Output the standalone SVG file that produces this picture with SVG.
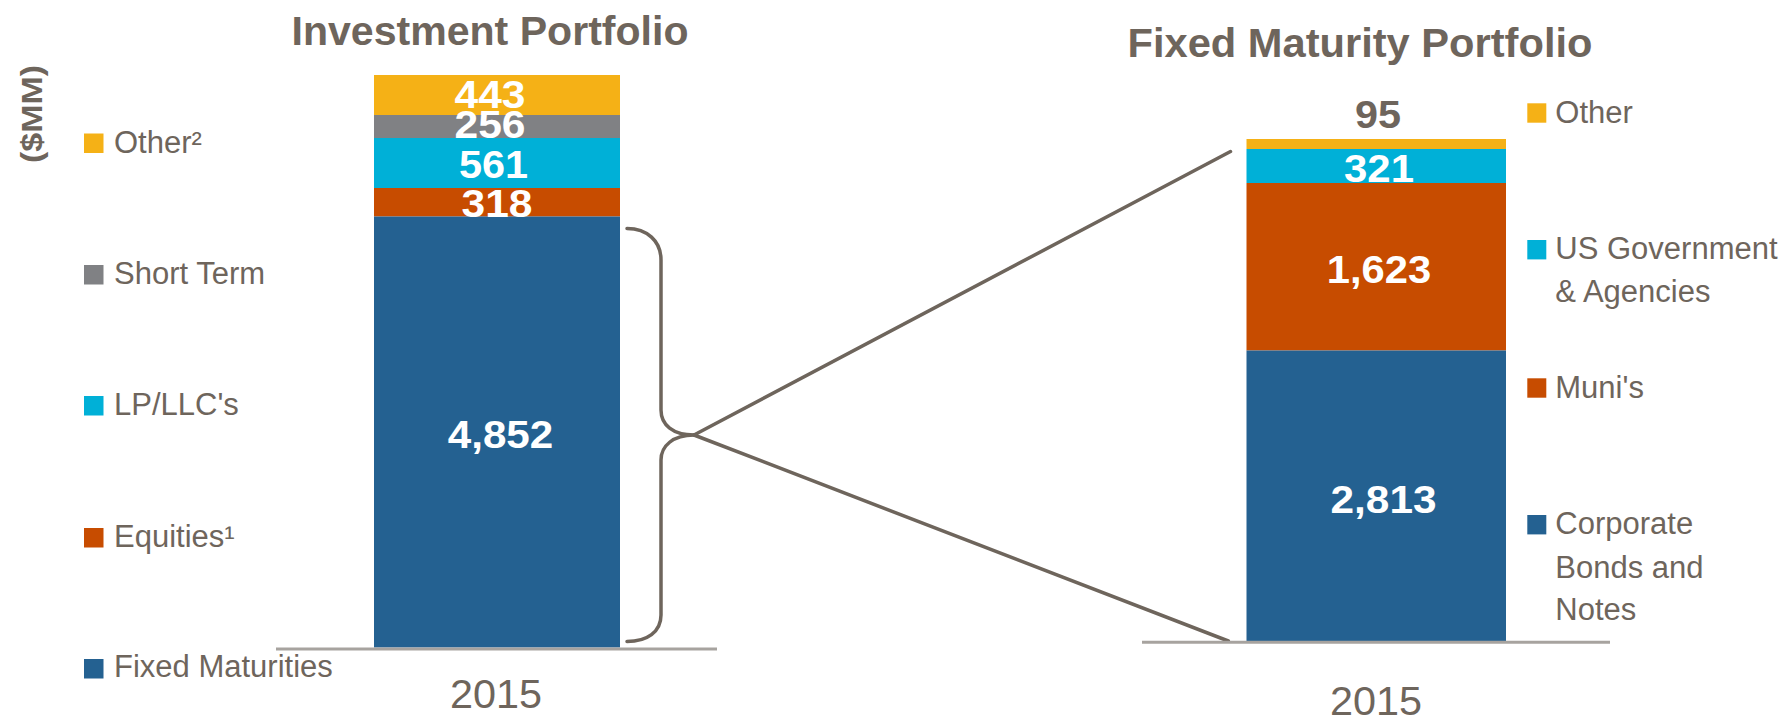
<svg xmlns="http://www.w3.org/2000/svg" width="1783" height="718" viewBox="0 0 1783 718">
  <style>
    .title { font-family: "Liberation Sans", Arial, sans-serif; font-weight: bold; font-size: 41px; fill: #6e655c; }
    .val { font-family: "Liberation Sans", Arial, sans-serif; font-weight: bold; font-size: 39px; fill: #ffffff; text-anchor: middle; }
    .valg { font-family: "Liberation Sans", Arial, sans-serif; font-weight: bold; font-size: 39px; fill: #6e655c; text-anchor: middle; }
    .leg { font-family: "Liberation Sans", Arial, sans-serif; font-size: 31px; fill: #6e655c; }
    .year { font-family: "Liberation Sans", Arial, sans-serif; font-size: 40px; fill: #6e655c; text-anchor: middle; }
    .axis { stroke: #a7a39f; stroke-width: 3; fill: none; }
    .conn { stroke: #6e655c; stroke-width: 3.5; fill: none; stroke-linecap: round; stroke-linejoin: round; }
    .c-yel { fill: #f5b116; }
    .c-gry { fill: #808184; }
    .c-cyn { fill: #00b0d7; }
    .c-org { fill: #c74c00; }
    .c-blu { fill: #246191; }
  </style>

  <g id="unit-label">
    <text x="31" y="114" transform="rotate(-90 31 114)" text-anchor="middle" dominant-baseline="central" font-family="Liberation Sans, Arial, sans-serif" font-weight="bold" font-size="30" fill="#6e655c" textLength="98" lengthAdjust="spacingAndGlyphs">($MM)</text>
  </g>

  <g id="title-investment">
    <text class="title" x="291.5" y="45" textLength="397" lengthAdjust="spacingAndGlyphs">Investment Portfolio</text>
  </g>

  <g id="title-fixed">
    <text class="title" x="1127.5" y="56.5" textLength="465" lengthAdjust="spacingAndGlyphs">Fixed Maturity Portfolio</text>
  </g>

  <g id="legend-left">
    <rect class="c-yel" x="84" y="133.5" width="19.5" height="19.5"/>
    <text class="leg" x="114" y="152.7">Other²</text>
    <rect class="c-gry" x="84" y="265" width="19.5" height="19.5"/>
    <text class="leg" x="114" y="284.3">Short Term</text>
    <rect class="c-cyn" x="84" y="396" width="19.5" height="19.5"/>
    <text class="leg" x="114" y="415">LP/LLC's</text>
    <rect class="c-org" x="84" y="528" width="19.5" height="19.5"/>
    <text class="leg" x="114" y="546.7">Equities¹</text>
    <rect class="c-blu" x="84" y="659" width="19.5" height="19.5"/>
    <text class="leg" x="114" y="677.3">Fixed Maturities</text>
  </g>

  <g id="bar-investment">
    <rect class="c-yel" x="374" y="75" width="246" height="40"/>
    <rect class="c-gry" x="374" y="115" width="246" height="23"/>
    <rect class="c-cyn" x="374" y="138" width="246" height="50"/>
    <rect class="c-org" x="374" y="188" width="246" height="28.5"/>
    <rect class="c-blu" x="374" y="216.5" width="246" height="431"/>
    <text class="val" x="490" y="108.3" textLength="71" lengthAdjust="spacingAndGlyphs">443</text>
    <text class="val" x="490" y="138.3" textLength="71" lengthAdjust="spacingAndGlyphs">256</text>
    <text class="val" x="493.6" y="178.3" textLength="69" lengthAdjust="spacingAndGlyphs">561</text>
    <text class="val" x="497" y="216.8" textLength="71" lengthAdjust="spacingAndGlyphs">318</text>
    <text class="val" x="500.5" y="448.3" textLength="105.5" lengthAdjust="spacingAndGlyphs">4,852</text>
  </g>

  <g id="axis-left">
    <line class="axis" x1="276" y1="649" x2="717" y2="649"/>
    <text class="year" x="496" y="708" textLength="92" lengthAdjust="spacingAndGlyphs">2015</text>
  </g>

  <g id="connectors">
    <path class="conn" d="M627 228.5 C647 228.5 661 241 661 260 L661 410 C661 425 673 435 694 435 C673 435 661 446 661 460 L661 615 C661 632 647 641.5 627 641.5"/>
    <line class="conn" x1="694" y1="435" x2="1230.5" y2="151.5"/>
    <line class="conn" x1="694" y1="435" x2="1228.3" y2="641"/>
  </g>

  <g id="bar-fixed">
    <rect class="c-yel" x="1246.5" y="139" width="259.5" height="10"/>
    <rect class="c-cyn" x="1246.5" y="149" width="259.5" height="34"/>
    <rect class="c-org" x="1246.5" y="183" width="259.5" height="167.5"/>
    <rect class="c-blu" x="1246.5" y="350.5" width="259.5" height="290.5"/>
    <text class="valg" x="1378" y="128.3" textLength="46" lengthAdjust="spacingAndGlyphs">95</text>
    <text class="val" x="1379" y="181.7" textLength="70" lengthAdjust="spacingAndGlyphs">321</text>
    <text class="val" x="1379" y="282.7" textLength="104.5" lengthAdjust="spacingAndGlyphs">1,623</text>
    <text class="val" x="1383.5" y="512.7" textLength="106" lengthAdjust="spacingAndGlyphs">2,813</text>
  </g>

  <g id="axis-right">
    <line class="axis" x1="1142" y1="642.3" x2="1610" y2="642.3"/>
    <text class="year" x="1376" y="715" textLength="92" lengthAdjust="spacingAndGlyphs">2015</text>
  </g>

  <g id="legend-right">
    <rect class="c-yel" x="1527.3" y="103.3" width="19" height="19.4"/>
    <text class="leg" x="1555.3" y="122.7">Other</text>
    <rect class="c-cyn" x="1527.3" y="240" width="19" height="19.4"/>
    <text class="leg" x="1555.3" y="259.3">US Government</text>
    <text class="leg" x="1555.3" y="301.7">&amp; Agencies</text>
    <rect class="c-org" x="1527.3" y="378.3" width="19" height="19.4"/>
    <text class="leg" x="1555.3" y="397.7">Muni's</text>
    <rect class="c-blu" x="1527.3" y="515" width="19" height="19.4"/>
    <text class="leg" x="1555.3" y="534.3">Corporate</text>
    <text class="leg" x="1555.3" y="577.7">Bonds and</text>
    <text class="leg" x="1555.3" y="620">Notes</text>
  </g>
</svg>
